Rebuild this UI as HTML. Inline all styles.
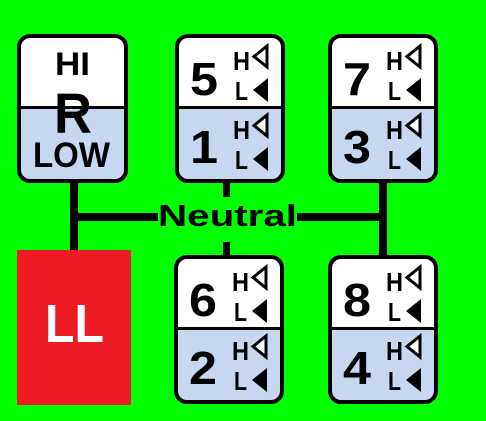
<!DOCTYPE html>
<html><head><meta charset="utf-8"><style>
html,body{margin:0;padding:0;background:#00ff00;width:486px;height:421px;overflow:hidden;}
svg{display:block}
text{font-family:"Liberation Sans",sans-serif;font-weight:bold}
</style></head><body>
<svg width="486" height="421" viewBox="0 0 486 421">
<rect x="0" y="0" width="486" height="421" fill="#00ff00"/>
<g fill="#000">
  <rect x="70" y="180" width="8" height="72"/>
  <rect x="74" y="213" width="84" height="8"/>
  <rect x="297" y="213" width="90" height="8"/>
  <rect x="379" y="180" width="8" height="78"/>
  <rect x="223" y="180" width="7" height="17"/>
  <rect x="223" y="242" width="7" height="15"/>
</g>
<text x="158" y="226" font-size="31" textLength="139" lengthAdjust="spacingAndGlyphs" fill="#000">Neutral</text>

<g>
  <clipPath id="cr"><rect x="19" y="36" width="107" height="145" rx="11"/></clipPath>
  <rect x="19" y="36" width="107" height="145" rx="11" fill="#fff"/>
  <rect x="19" y="108" width="107" height="80" fill="#c6d7ef" clip-path="url(#cr)"/>
  <rect x="19" y="106" width="107" height="3" fill="#000"/>
  <rect x="19" y="36" width="107" height="145" rx="11" fill="none" stroke="#000" stroke-width="4"/>
  <text x="55" y="75" font-size="32" textLength="35" lengthAdjust="spacingAndGlyphs">HI</text>
  <text x="54" y="133" font-size="57" textLength="38" lengthAdjust="spacingAndGlyphs">R</text>
  <text x="33" y="167" font-size="35" textLength="77" lengthAdjust="spacingAndGlyphs">LOW</text>
</g>

<g>
  <rect x="17" y="250" width="114" height="155" fill="#ed1c24"/>
  <text x="45" y="342" font-size="54" textLength="59" lengthAdjust="spacingAndGlyphs" fill="#fff">LL</text>
</g>

<g id="boxes"></g>
</svg>
<script>
const gearTop = ["5","7","6","8"];
const gearBottom = ["1","3","2","4"];
const boxLeft = [177,330,176,330];
const boxTop = [36,36,257,257];
const NS = "http://www.w3.org/2000/svg";
const g = document.getElementById('boxes');
function mk(tag, attrs, parent){const e=document.createElementNS(NS,tag);for(const k in attrs)e.setAttribute(k,attrs[k]);parent.appendChild(e);return e;}
function hl(parent,x,y){
  const h=mk('text',{x:x+56,y:y+34,'font-size':26,textLength:17,lengthAdjust:'spacingAndGlyphs',fill:'#000'},parent);h.textContent='H';
  const l=mk('text',{x:x+58,y:y+64,'font-size':26,textLength:13,lengthAdjust:'spacingAndGlyphs',fill:'#000'},parent);l.textContent='L';
  mk('polygon',{points:`${x+90},${y+10} ${x+90},${y+31} ${x+77},${y+20.5}`,fill:'#fff',stroke:'#000','stroke-width':3},parent);
  mk('polygon',{points:`${x+91},${y+42} ${x+91},${y+66} ${x+76},${y+54}`,fill:'#000'},parent);
}
for(let i=0;i<gearTop.length;i++){
  const x=boxLeft[i], y=boxTop[i], w=106, h=145;
  const b=mk('g',{},g);
  
  
  const cid='c'+i;
  const cp=mk('clipPath',{id:cid},b);mk('rect',{x:x,y:y,width:w,height:h,rx:11},cp);
  mk('rect',{x:x,y:y,width:w,height:h,rx:11,fill:'#fff'},b);
  mk('rect',{x:x,y:y+72,width:w,height:h,fill:'#c6d7ef','clip-path':`url(#${cid})`},b);
  mk('rect',{x:x,y:y+70,width:w,height:3,fill:'#000'},b);
  mk('rect',{x:x,y:y,width:w,height:h,rx:11,fill:'none',stroke:'#000','stroke-width':4},b);
  const t1=mk('text',{x:x+13,y:y+59,'font-size':46,textLength:28,lengthAdjust:'spacingAndGlyphs',fill:'#000'},b);t1.textContent=gearTop[i];
  
  
  const t2=mk('text',{x:x+13,y:y+127,'font-size':46,textLength:28,lengthAdjust:'spacingAndGlyphs',fill:'#000'},b);t2.textContent=gearBottom[i];
  
  
  hl(b,x,y);
  hl(b,x,y+69);
}
</script>
</body></html>
